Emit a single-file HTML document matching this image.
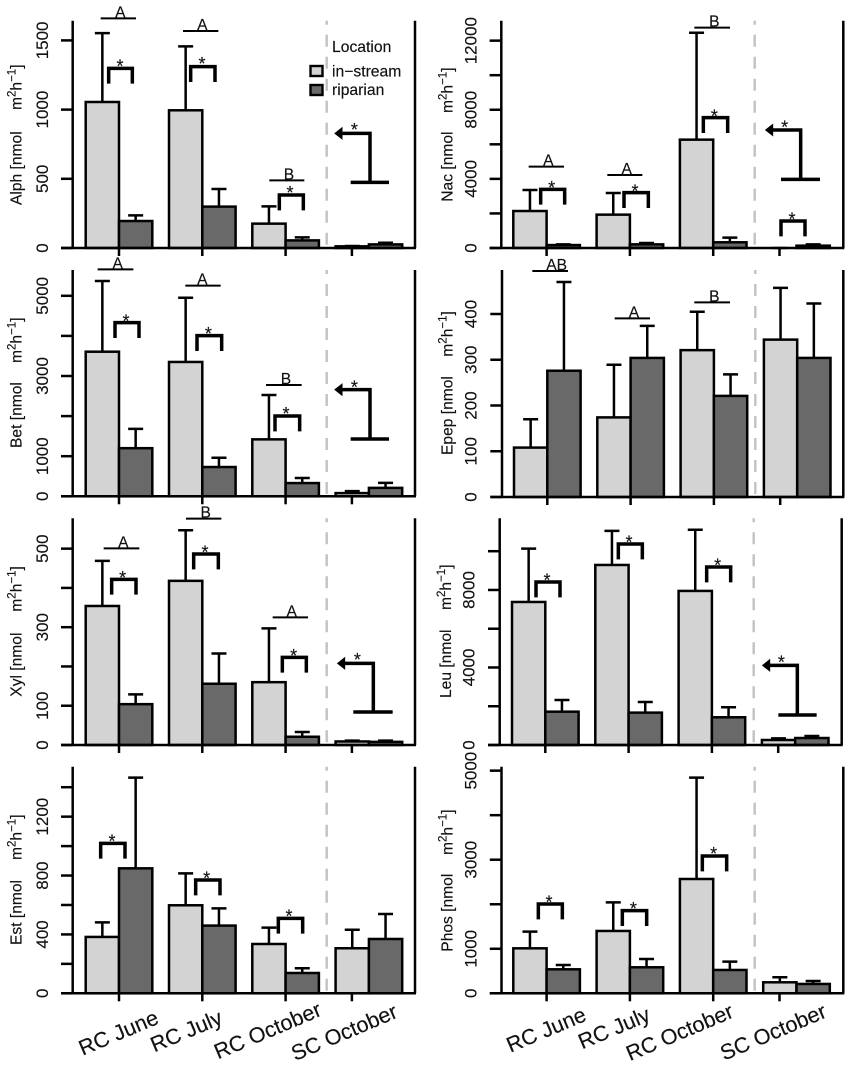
<!DOCTYPE html>
<html lang="en">
<head>
<meta charset="utf-8">
<title>Enzyme activity by location</title>
<style>
html,body{margin:0;padding:0;background:#fff;width:851px;height:1070px;overflow:hidden}
svg{display:block;font-family:"Liberation Sans",Arial,sans-serif;fill:#111}
text{stroke:#111;stroke-width:0.15px}
</style>
</head>
<body>
<svg id="chart" xmlns="http://www.w3.org/2000/svg" width="851" height="1070" viewBox="0 0 851 1070">
  <g>
    <text x="332" y="52" font-size="15.7">Location</text>
    <rect x="310.5" y="66" width="12" height="10" fill="#d3d3d3" stroke="#000" stroke-width="2.4"/>
    <text x="332" y="76.5" font-size="15.7">in−stream</text>
    <rect x="310.5" y="85" width="12" height="10" fill="#696969" stroke="#000" stroke-width="2.4"/>
    <text x="332" y="95" font-size="15.7">riparian</text>
  </g>
</svg>
<script>
const categories = ['RC June', 'RC July', 'RC October', 'SC October'];

const alphInStream = [1055, 995, 176, 12];
const alphInStreamUpper = [1553, 1457, 301, 14];
const alphRiparian = [195, 299, 55, 26];
const alphRiparianUpper = [236, 426, 77, 38];
const alphTicks = [0, 500, 1000, 1500];
const alphTickLabels = ['0', '500', '1000', '1500'];

const nacInStream = [2140, 1930, 6270, 0];
const nacInStreamUpper = [3360, 3180, 12460, 0];
const nacRiparian = [170, 210, 330, 135];
const nacRiparianUpper = [210, 290, 600, 210];
const nacTicks = [0, 2000, 4000, 6000, 8000, 10000, 12000];
const nacTickLabels = ['0', '', '4000', '', '8000', '', '12000'];

const betInStream = [3606, 3350, 1420, 80];
const betInStreamUpper = [5370, 4950, 2525, 130];
const betRiparian = [1200, 730, 330, 210];
const betRiparianUpper = [1680, 960, 455, 335];
const betTicks = [0, 1000, 2000, 3000, 4000, 5000];
const betTickLabels = ['0', '1000', '', '3000', '', '5000'];

const epepInStream = [108, 174, 321, 344];
const epepInStreamUpper = [170, 289, 405, 457];
const epepRiparian = [276, 304, 221, 304];
const epepRiparianUpper = [470, 374, 268, 423];
const epepTicks = [0, 100, 200, 300, 400];
const epepTickLabels = ['0', '100', '200', '300', '400'];

const xylInStream = [354, 418, 160, 9];
const xylInStreamUpper = [469, 547, 297, 11];
const xylRiparian = [104, 156, 21, 8];
const xylRiparianUpper = [129, 233, 33, 11];
const xylTicks = [0, 100, 200, 300, 400, 500];
const xylTickLabels = ['0', '100', '', '300', '', '500'];

const leuInStream = [7380, 9290, 7950, 258];
const leuInStreamUpper = [10130, 11050, 11110, 344];
const leuRiparian = [1720, 1670, 1430, 360];
const leuRiparianUpper = [2320, 2220, 1945, 465];
const leuTicks = [0, 2000, 4000, 6000, 8000, 10000];
const leuTickLabels = ['0', '', '4000', '', '8000', ''];

const estInStream = [383, 598, 335, 306];
const estInStreamUpper = [482, 815, 446, 432];
const estRiparian = [849, 460, 138, 369];
const estRiparianUpper = [1465, 577, 170, 539];
const estTicks = [0, 200, 400, 600, 800, 1000, 1200, 1400];
const estTickLabels = ['0', '', '400', '', '800', '', '1200', ''];

const phosInStream = [1010, 1400, 2567, 247];
const phosInStreamUpper = [1385, 2043, 4843, 360];
const phosRiparian = [539, 584, 524, 210];
const phosRiparianUpper = [636, 771, 711, 277];
const phosTicks = [0, 1000, 2000, 3000, 4000, 5000];
const phosTickLabels = ['0', '1000', '', '3000', '', '5000'];

const NS = 'http://www.w3.org/2000/svg';
const svg = document.getElementById('chart');
const INK = '#000';
const LINE = 2.5;

function make(tag, attrs, parent) {
  const n = document.createElementNS(NS, tag);
  for (const k in attrs) n.setAttribute(k, attrs[k]);
  parent.appendChild(n);
  return n;
}

const panels = [
  { id: 'alph', name: 'Alph', axis: 72.7, right: 415, top: 20.7, base: 248, x0: 85.7, dash: 326.7, ox: 0, oy: 0, k: 0.1384, tickBase: 48,
    a: alphInStream, au: alphInStreamUpper, b: alphRiparian, bu: alphRiparianUpper, t: alphTicks, tl: alphTickLabels,
    lab: [21.5, 205, 110],
    brackets: [[326, 397, 205, 360, 188], [572, 645, 200, 606, 180], [838, 910, 585, 870, 567]],
    groups: [[302, 408, 55, 'A', 361], [549, 655, 93, 'A', 607], [808, 913, 541, 'B', 867]],
    arrow: [1005, 400, 1110, 547, 1052, 1167, 1063, 378] },
  { id: 'nac', name: 'Nac', axis: 501.3, right: 843.3, top: 20.7, base: 248, x0: 513.3, dash: 754.7, ox: 425, oy: 0, k: 0.01728, tickBase: 476.7,
    a: nacInStream, au: nacInStreamUpper, b: nacRiparian, bu: nacRiparianUpper, t: nacTicks, tl: nacTickLabels,
    lab: [452.5, 201.7, 113],
    brackets: [[347, 419, 568, 380, 552], [597, 670, 578, 630, 562], [835, 908, 353, 868, 337], [1068, 1140, 663, 1101, 647]],
    groups: [[311, 417, 500, 'A', 370], [547, 652, 525, 'A', 605], [808, 915, 83, 'B', 868]],
    arrow: [1022, 390, 1127, 538, 1068, 1185, 1079, 370] },
  { id: 'bet', name: 'Bet', axis: 72.7, right: 415, top: 270, base: 496.3, x0: 85.7, dash: 326.7, ox: 0, oy: 255, k: 0.0401, tickBase: 48,
    a: betInStream, au: betInStreamUpper, b: betRiparian, bu: betRiparianUpper, t: betTicks, tl: betTickLabels,
    lab: [21.5, 448, 363],
    brackets: [[345, 417, 203, 378, 187], [591, 665, 242, 625, 225], [825, 899, 483, 858, 465]],
    groups: [[293, 400, 43, 'A', 353], [556, 662, 92, 'A', 607], [798, 905, 390, 'B', 858]],
    arrow: [1005, 404, 1110, 552, 1052, 1167, 1063, 385] },
  { id: 'epep', name: 'Epep', axis: 502, right: 843.3, top: 270, base: 497, x0: 514, dash: 755.3, ox: 425, oy: 255, k: 0.4575, tickBase: 476.7,
    a: epepInStream, au: epepInStreamUpper, b: epepRiparian, bu: epepRiparianUpper, t: epepTicks, tl: epepTickLabels,
    lab: [452.5, 455, 356.7],
    brackets: [],
    groups: [[322, 429, 48, 'AB', 395], [569, 675, 190, 'A', 627], [808, 915, 142, 'B', 868]],
    arrow: null },
  { id: 'xyl', name: 'Xyl', axis: 72.7, right: 415, top: 518.3, base: 745, x0: 85.7, dash: 326.7, ox: 0, oy: 500, k: 0.3927, tickBase: 48,
    a: xylInStream, au: xylInStreamUpper, b: xylRiparian, bu: xylRiparianUpper, t: xylTicks, tl: xylTickLabels,
    lab: [21.5, 696.7, 611.7],
    brackets: [[335, 408, 238, 368, 222], [581, 655, 162, 615, 146], [847, 919, 472, 881, 456]],
    groups: [[311, 418, 145, 'A', 370], [558, 664, 56, 'B', 617], [818, 924, 352, 'A', 875]],
    arrow: [1013, 490, 1120, 636, 1060, 1178, 1072, 468] },
  { id: 'leu', name: 'Leu', axis: 499.7, right: 841.7, top: 518.3, base: 745, x0: 512, dash: 753.7, ox: 425, oy: 500, k: 0.01938, tickBase: 474.3,
    a: leuInStream, au: leuInStreamUpper, b: leuRiparian, bu: leuRiparianUpper, t: leuTicks, tl: leuTickLabels,
    lab: [451, 698, 610],
    brackets: [[333, 405, 246, 366, 230], [580, 652, 132, 612, 115], [845, 917, 201, 878, 185]],
    groups: [],
    arrow: [1013, 496, 1117, 645, 1060, 1175, 1069, 476] },
  { id: 'est', name: 'Est', axis: 72.7, right: 415, top: 766.7, base: 993.3, x0: 85.7, dash: 326.7, ox: 0, oy: 760, k: 0.1472, tickBase: 48,
    a: estInStream, au: estInStreamUpper, b: estRiparian, bu: estRiparianUpper, t: estTicks, tl: estTickLabels,
    lab: [21.5, 945, 860],
    brackets: [[302, 375, 250, 336, 232], [587, 660, 360, 620, 343], [835, 908, 475, 867, 458]],
    groups: [],
    arrow: null,
    xEnds: [[160, 1023], [224, 1023], [323, 1015], [399, 1017]] },
  { id: 'phos', name: 'Phos', axis: 501.5, right: 843.3, top: 766.7, base: 993.3, x0: 513.3, dash: 754.7, ox: 425, oy: 760, k: 0.04453, tickBase: 476.7,
    a: phosInStream, au: phosInStreamUpper, b: phosRiparian, bu: phosRiparianUpper, t: phosTicks, tl: phosTickLabels,
    lab: [452.5, 951.7, 855],
    brackets: [[340, 412, 432, 372, 415], [592, 665, 452, 625, 435], [832, 905, 288, 866, 270]],
    groups: [],
    arrow: null,
    xEnds: [[587.7, 1020], [651.7, 1020], [735, 1016.7], [828, 1016.7]] }
];

const BAR_W = 33.3;
const STEP = 83.3;
const CAP = 15;

function drawPanel(p) {
  const g = make('g', {}, svg);
  
  

  const yScale = v => p.base - v * p.k;
  const xLeft = (group, series) => p.x0 + STEP * group + BAR_W * series;
  const zx = v => p.ox + v / 3;
  const zy = v => p.oy + v / 3;

  const dash = make('line', { x1: p.dash, x2: p.dash, y1: p.top, y2: p.base, stroke: '#c2c2c2', 'stroke-width': 2.4, 'stroke-dasharray': '12 10', 'stroke-dashoffset': 8 }, g);
  
  

  const seriesSets = [
    { key: 'in-stream', vals: p.a, upper: p.au, fill: '#d3d3d3' },
    { key: 'riparian', vals: p.b, upper: p.bu, fill: '#696969' }
  ];
  seriesSets.forEach((s, si) => {
    s.vals.forEach((v, i) => {
      const x = xLeft(i, si);
      const cx = x + BAR_W / 2;
      const err = make('path', { d: 'M' + cx + ' ' + yScale(v) + 'V' + yScale(s.upper[i]) + 'M' + (cx - CAP / 2) + ' ' + yScale(s.upper[i]) + 'H' + (cx + CAP / 2), fill: 'none', stroke: INK, 'stroke-width': LINE }, g);
      
      
      if (v <= 0) return;
      const bar = make('rect', { x: x, y: yScale(v), width: BAR_W, height: p.base - yScale(v), fill: s.fill, stroke: INK, 'stroke-width': LINE }, g);
      
      
    });
  });

  const left = make('line', { x1: p.axis, x2: p.axis, y1: p.top, y2: p.base, stroke: INK, 'stroke-width': LINE }, g);
  
  
  const right = make('line', { x1: p.right, x2: p.right, y1: p.top, y2: p.base, stroke: INK, 'stroke-width': LINE }, g);
  
  
  const baseLine = make('line', { x1: p.axis - 11.7, x2: p.right + 1, y1: p.base, y2: p.base, stroke: INK, 'stroke-width': LINE }, g);
  
  

  p.t.forEach((v, i) => {
    const y = yScale(v);
    const tick = make('line', { x1: p.axis - 11.7, x2: p.axis, y1: y, y2: y, stroke: INK, 'stroke-width': LINE }, g);
    
    
    if (p.tl[i]) {
      const lab = make('text', { transform: 'translate(' + p.tickBase + ' ' + y + ') rotate(-90)', 'text-anchor': 'middle', 'font-size': 17 }, g);
      lab.textContent = p.tl[i];
      
      
    }
  });

  categories.forEach((c, i) => {
    const tx = i < 3 ? xLeft(i, 1) : xLeft(i, 1) - 17;
    const xt = make('line', { x1: tx, x2: tx, y1: p.base, y2: p.base + 8, stroke: INK, 'stroke-width': LINE }, g);
    
    
    if (p.xEnds) {
      const xl = make('text', { transform: 'translate(' + p.xEnds[i][0] + ' ' + p.xEnds[i][1] + ') rotate(-23)', 'text-anchor': 'end', 'font-size': 21.6 }, g);
      xl.textContent = c;
      
      
    }
  });

  const yl = make('text', { transform: 'translate(' + p.lab[0] + ' ' + p.lab[1] + ') rotate(-90)', 'font-size': 15.6 }, g);
  yl.textContent = p.name + ' [nmol';
  
  
  const yu = make('text', { transform: 'translate(' + p.lab[0] + ' ' + p.lab[2] + ') rotate(-90)', 'font-size': 15.6 }, g);
  
  
  let raised = false;
  [['m', false], ['2', true], ['h', false], ['−1', true], [']', false]].forEach(part => {
    const dy = part[1] ? -6 : (raised ? 6 : 0);
    const ts = make('tspan', { 'font-size': part[1] ? 11.5 : 15.6, dy: dy }, yu);
    ts.textContent = part[0];
    raised = part[1];
  });

  p.brackets.forEach((b, i) => {
    const br = make('path', { d: 'M' + zx(b[0]) + ' ' + zy(b[2] + 46) + 'V' + zy(b[2]) + 'H' + zx(b[1]) + 'V' + zy(b[2] + 46), fill: 'none', stroke: INK, 'stroke-width': 3.5 }, g);
    
    
    const st = make('text', { x: zx(b[3]), y: zy(b[4]) + 10, 'text-anchor': 'middle', 'font-size': 18 }, g);
    st.textContent = '*';
    
    
  });

  p.groups.forEach((b, i) => {
    const ln = make('line', { x1: zx(b[0]), x2: zx(b[1]), y1: zy(b[2]), y2: zy(b[2]), stroke: INK, 'stroke-width': 2 }, g);
    
    
    const tx = make('text', { x: zx(b[4]), y: zy(b[2]) - 1, 'text-anchor': 'middle', 'font-size': 15.6 }, g);
    tx.textContent = b[3];
    
    
  });

  if (p.arrow) {
    const a = p.arrow;
    const ar = make('path', { d: 'M' + zx(a[0] + 12) + ' ' + zy(a[1]) + 'H' + zx(a[2]) + 'V' + zy(a[3]) + 'M' + zx(a[4]) + ' ' + zy(a[3]) + 'H' + zx(a[5]), fill: 'none', stroke: INK, 'stroke-width': 3.5 }, g);
    
    
    const hx = zx(a[0]);
    const hy = zy(a[1]);
    const head = make('path', { d: 'M' + hx + ' ' + hy + 'L' + (hx + 7) + ' ' + (hy - 5.5) + 'V' + (hy + 5.5) + 'Z', fill: INK, stroke: INK, 'stroke-width': 1 }, g);
    
    
    const st = make('text', { x: zx(a[6]), y: zy(a[7]) + 10, 'text-anchor': 'middle', 'font-size': 18 }, g);
    st.textContent = '*';
    
    
  }
}

panels.forEach(drawPanel);
</script>
</body>
</html>
